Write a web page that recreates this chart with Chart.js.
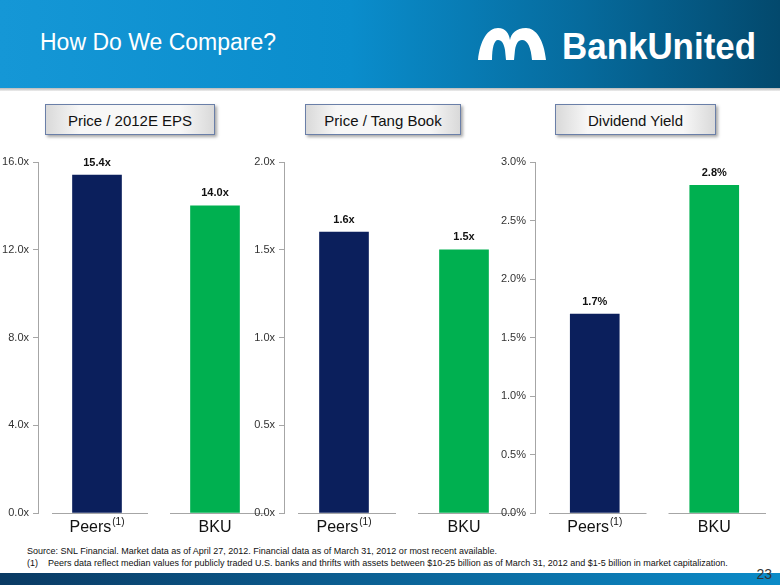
<!DOCTYPE html>
<html>
<head>
<meta charset="utf-8">
<script src="https://cdn.jsdelivr.net/npm/chart.js@4.4.1/dist/chart.umd.min.js"></script>
<style>
  html, body { margin: 0; padding: 0; }
  body { width: 780px; height: 585px; position: relative; overflow: hidden; background: #fff; font-family: "Liberation Sans", Arial, sans-serif; }
  #header { position: absolute; left: 0; top: 0; width: 780px; height: 88px;
    background: linear-gradient(90deg, #1597d6 0%, #0a8dcc 45%, #066a9c 75%, #03496d 100%); }
  #headline { position: absolute; left: 0; top: 88px; width: 780px; height: 3px; background: linear-gradient(#b9b9b9, #eee); }
  #title { position: absolute; left: 40px; top: 29px; color: #fff; font-size: 23px; }
  #logo { position: absolute; left: 476px; top: 26px; }
  .box { position: absolute; top: 104px; height: 31px; line-height: 31px; text-align: center; font-size: 15px; color: #111;
    border: 1px solid #6a7fa8; background: linear-gradient(90deg, #d9d9d9, #f7f7f7 20%, #f7f7f7 80%, #d9d9d9);
    box-shadow: 2px 2px 3px rgba(0,0,0,0.35); box-sizing: border-box; }
  canvas.c { position: absolute; top: 140px; }
  #notes { position: absolute; left: 27px; top: 545px; font-size: 9px; color: #111; line-height: 12px; }
  #footer { position: absolute; left: 0; top: 573px; width: 780px; height: 12px;
    background: linear-gradient(90deg, #0a3a63 0%, #0b5a8c 40%, #0b8bc8 100%); }
  #page { position: absolute; right: 8px; top: 566px; font-size: 14px; line-height: 16px; color: #333; }
</style>
</head>
<body>
<div id="header"></div>
<div id="headline"></div>
<div id="title">How Do We Compare?</div>
<svg id="logo" width="285" height="36" viewBox="0 0 285 36">
  <path d="M2 34 C4 14 12 2 22 2 C30 2 33 8 34 14 C35 8 40 2 50 2 C60 2 68 14 70 34 L56 34 C55 22 52 14 46 14 C42 14 40 18 39 24 L38 34 L30 34 L29 24 C28 18 26 14 22 14 C18 14 16 22 16 34 Z" fill="#fff"/>
  <text x="86" y="33" fill="#fff" font-family="Liberation Sans, Arial" font-weight="bold" font-size="37" textLength="194" lengthAdjust="spacingAndGlyphs">BankUnited</text>
</svg>
<div class="box" style="left:45px;width:170px;">Price / 2012E EPS</div>
<div class="box" style="left:305px;width:156px;">Price / Tang Book</div>
<div class="box" style="left:555px;width:161px;">Dividend Yield</div>
<canvas class="c" id="chartEps" width="280" height="400" style="left:0px;"></canvas>
<canvas class="c" id="chartBook" width="290" height="400" style="left:240px;"></canvas>
<canvas class="c" id="chartYield" width="290" height="400" style="left:490px;"></canvas>
<div id="notes">Source: SNL Financial. Market data as of April 27, 2012. Financial data as of March 31, 2012 or most recent available.<br>(1)&nbsp;&nbsp;&nbsp; Peers data reflect median values for publicly traded U.S. banks and thrifts with assets between $10-25 billion as of March 31, 2012 and $1-5 billion in market capitalization.</div>
<div id="footer"></div>
<div id="page">23</div>
<script>
// ==== data ====
const categories = ["Peers", "BKU"];
const categoryNotes = ["(1)", ""];
const epsValues = [15.4, 14.0];
const bookValues = [1.6, 1.5];
const yieldValues = [1.7, 2.8];
const barColors = ["#0b1f5c", "#00b050"];

// value labels above the bars
const valueLabels = {
  id: "valueLabels",
  afterDatasetsDraw(chart, args, opts) {
    const ctx = chart.ctx;
    const meta = chart.getDatasetMeta(0);
    ctx.save();
    ctx.font = "bold 11px 'Liberation Sans', Arial";
    ctx.fillStyle = "#111";
    ctx.textAlign = "center";
    ctx.textBaseline = "bottom";
    meta.data.forEach((bar, i) => {
      const v = chart.data.datasets[0].data[i];
      ctx.fillText(v.toFixed(1) + opts.suffix, bar.x, bar.y - 7);
    });
    ctx.restore();
  }
};

// grey baseline segments + category names with superscript note
const baseSegments = {
  id: "baseSegments",
  beforeDatasetsDraw(chart) {
    const ctx = chart.ctx;
    const x = chart.scales.x;
    const y0 = chart.scales.y.getPixelForValue(0);
    const half = (x.right - x.left) / categories.length / 2;
    ctx.save();
    ctx.strokeStyle = "#a6a6a6";
    ctx.lineWidth = 1;
    categories.forEach((c, i) => {
      const cx = x.getPixelForValue(i);
      ctx.beginPath();
      ctx.moveTo(cx - half + 14, y0 + 0.5);
      ctx.lineTo(cx + half - 8, y0 + 0.5);
      ctx.stroke();
    });
    ctx.restore();
  },
  afterDraw(chart) {
    const ctx = chart.ctx;
    const x = chart.scales.x;
    const y0 = chart.scales.y.getPixelForValue(0);
    ctx.save();
    ctx.fillStyle = "#111";
    ctx.textBaseline = "alphabetic";
    categories.forEach((c, i) => {
      const cx = x.getPixelForValue(i);
      ctx.font = "16px 'Liberation Sans', Arial";
      const w1 = ctx.measureText(c).width;
      ctx.font = "10px 'Liberation Sans', Arial";
      const w2 = categoryNotes[i] ? ctx.measureText(categoryNotes[i]).width + 1 : 0;
      const start = cx - (w1 + w2) / 2;
      ctx.textAlign = "left";
      ctx.font = "16px 'Liberation Sans', Arial";
      ctx.fillText(c, start, y0 + 19);
      if (categoryNotes[i]) {
        ctx.font = "10px 'Liberation Sans', Arial";
        ctx.fillText(categoryNotes[i], start + w1 + 1, y0 + 12);
      }
    });
    ctx.restore();
  }
};

function makeChart(id, values, maxVal, step, suffix, axisWidth) {
  const ctx = document.getElementById(id).getContext("2d");
  return new Chart(ctx, {
    type: "bar",
    data: {
      labels: categories,
      datasets: [{
        data: values,
        backgroundColor: barColors,
        barThickness: 49
      }]
    },
    options: {
      responsive: false,
      animation: false,
      layout: { padding: { top: 22, right: 6, left: 0, bottom: 0 } },
      plugins: {
        legend: { display: false },
        tooltip: { enabled: false },
        valueLabels: { suffix: suffix }
      },
      scales: {
        x: {
          grid: { display: false, drawTicks: false },
          border: { display: false },
          ticks: { display: false },
          afterFit(s) { s.height = 27; }
        },
        y: {
          min: 0, max: maxVal,
          grid: { drawOnChartArea: false, tickLength: 5, color: "#a6a6a6" },
          border: { color: "#a6a6a6" },
          ticks: {
            stepSize: step,
            color: "#333",
            padding: 4,
            font: { size: 11, family: "'Liberation Sans', Arial" },
            callback: v => Number(v).toFixed(1) + suffix
          },
          afterFit(s) { s.width = axisWidth; }
        }
      }
    },
    plugins: [valueLabels, baseSegments]
  });
}

makeChart("chartEps", epsValues, 16, 4, "x", 38);
makeChart("chartBook", bookValues, 2, 0.5, "x", 44);
makeChart("chartYield", yieldValues, 3, 0.5, "%", 45);
</script>
</body>
</html>
